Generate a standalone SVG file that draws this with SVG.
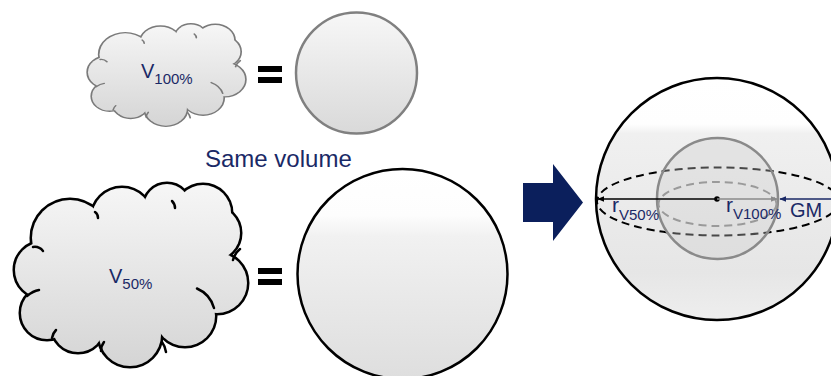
<svg xmlns="http://www.w3.org/2000/svg" xmlns:xlink="http://www.w3.org/1999/xlink" width="831" height="376" viewBox="0 0 831 376">
<style>
.lbl{font-family:"Liberation Sans",Arial,sans-serif;fill:#1a2966}
.big{font-size:20px}
.sub{font-size:15px}
.eq{fill:#000}
.cs{fill:none;stroke-width:5;vector-effect:non-scaling-stroke}
.hook{fill:none;stroke-width:2.5;stroke-linecap:round;vector-effect:non-scaling-stroke}
</style>
<defs>
<linearGradient id="cloudGrad" gradientUnits="userSpaceOnUse" x1="0" y1="185" x2="0" y2="365">
<stop offset="0" stop-color="#f6f6f6"/><stop offset="1" stop-color="#d5d5d5"/>
</linearGradient>
<linearGradient id="smallGrad" x1="0" y1="0" x2="0" y2="1">
<stop offset="0" stop-color="#f7f7f7"/><stop offset="1" stop-color="#d9d9d9"/>
</linearGradient>
<linearGradient id="bigGrad" x1="0" y1="0" x2="0" y2="1">
<stop offset="0" stop-color="#ffffff"/><stop offset="0.22" stop-color="#fdfdfd"/><stop offset="0.32" stop-color="#f1f1f1"/><stop offset="1" stop-color="#dedede"/>
</linearGradient>
<linearGradient id="sphereGrad" x1="0" y1="0" x2="0" y2="1">
<stop offset="0" stop-color="#ffffff"/><stop offset="0.19" stop-color="#fefefe"/><stop offset="0.23" stop-color="#f0f0f0"/><stop offset="0.8" stop-color="#e6e6e6"/><stop offset="1" stop-color="#eeeeee"/>
</linearGradient>
<g id="cloudCircles">
<circle cx="70" cy="238" r="38"/>
<circle cx="122" cy="218" r="30"/>
<circle cx="167" cy="207" r="23"/>
<circle cx="203" cy="213" r="28"/>
<circle cx="213" cy="233" r="27"/>
<circle cx="217" cy="283" r="30"/>
<circle cx="185" cy="316" r="30"/>
<circle cx="130" cy="335" r="31"/>
<circle cx="78" cy="326" r="26"/>
<circle cx="47" cy="313" r="26"/>
<circle cx="43" cy="270" r="28"/>
</g>
<g id="cloudHooks">
<path d="M33,247 Q39,246 43,251"/>
<path d="M95,212 Q98,214 98,218"/>
<path d="M172,201 Q175,204 175,208"/>
<path d="M240,249 Q235,253 233,260"/>
<path d="M197,288.5 A30,30 0 0 1 214,308"/>
<path d="M27,296 Q33,291 39,290"/>
<path d="M52,338 Q53,333 56,330"/>
<path d="M101,351 Q101,346 104,342"/>
<path d="M166,352 Q165,346 162,342"/>
</g>
<marker id="mBlack" viewBox="0 0 10 10" refX="9" refY="5" markerWidth="7" markerHeight="7" markerUnits="userSpaceOnUse" orient="auto"><path d="M0,1 L10,5 L0,9 Z" fill="#000"/></marker>
<marker id="mGrey" viewBox="0 0 10 10" refX="9" refY="5" markerWidth="7" markerHeight="7" markerUnits="userSpaceOnUse" orient="auto"><path d="M0,1 L10,5 L0,9 Z" fill="#8a8a8a"/></marker>
<marker id="mNavy" viewBox="0 0 10 10" refX="9" refY="5" markerWidth="7" markerHeight="7" markerUnits="userSpaceOnUse" orient="auto"><path d="M0,1 L10,5 L0,9 Z" fill="#1a2966"/></marker>
</defs>
<rect width="831" height="376" fill="#ffffff"/>

<g id="cloud100" transform="translate(88,25) scale(0.677,0.556) translate(-15,-185)">
<use xlink:href="#cloudCircles" class="cs" stroke="#7a7a7a"/>
<use xlink:href="#cloudCircles" fill="url(#cloudGrad)"/>
<ellipse cx="131" cy="275" rx="90" ry="62" fill="url(#cloudGrad)"/>
<use xlink:href="#cloudHooks" class="hook" stroke="#7a7a7a"/>
</g>
<g id="label100">
<text class="lbl" x="141" y="78"><tspan class="big">V</tspan><tspan class="sub" dy="6">100%</tspan></text>
</g>
<g id="eq1"><rect class="eq" x="258" y="66" width="24" height="6"/><rect class="eq" x="258" y="77" width="24" height="6"/></g>
<g id="circle100"><circle cx="356.5" cy="73" r="60.5" fill="url(#smallGrad)" stroke="#808080" stroke-width="2.5"/></g>

<g id="sameVolume"><text class="lbl" x="205" y="167" style="font-size:24px">Same volume</text></g>

<g id="cloud50">
<use xlink:href="#cloudCircles" class="cs" stroke="#000"/>
<use xlink:href="#cloudCircles" fill="url(#cloudGrad)"/>
<ellipse cx="131" cy="275" rx="90" ry="62" fill="url(#cloudGrad)"/>
<use xlink:href="#cloudHooks" class="hook" stroke="#000"/>
</g>
<g id="label50">
<text class="lbl" x="109" y="283"><tspan class="big">V</tspan><tspan class="sub" dy="6">50%</tspan></text>
</g>
<g id="eq2"><rect class="eq" x="258" y="268" width="24" height="6"/><rect class="eq" x="258" y="279" width="24" height="6"/></g>
<g id="circle50"><circle cx="402.5" cy="274" r="105" fill="url(#bigGrad)" stroke="#000" stroke-width="2.5"/></g>

<g id="bigArrow"><path d="M523,183 L553,183 L553,164 L583,202.5 L553,241 L553,222 L523,222 Z" fill="#0b1f5c"/></g>

<g id="sphere">
<circle cx="717" cy="199" r="121" fill="url(#sphereGrad)" stroke="#000" stroke-width="2.5"/>
<ellipse cx="718" cy="201.5" rx="121" ry="34" fill="none" stroke="#000" stroke-width="2" stroke-dasharray="8,5"/>
<circle cx="717.5" cy="198.5" r="60.5" fill="#cfcfcf" fill-opacity="0.35" stroke="#8a8a8a" stroke-width="2.5"/>
<ellipse cx="717.5" cy="204" rx="59" ry="22" fill="none" stroke="#9a9a9a" stroke-width="2" stroke-dasharray="8,5"/>
<circle cx="717" cy="199" r="2.8" fill="#000"/>
<text class="lbl" x="612" y="212"><tspan style="font-size:21px">r</tspan><tspan class="sub" dy="8">V50%</tspan></text>
<text class="lbl" x="726" y="212"><tspan style="font-size:21px">r</tspan><tspan class="sub" dy="7">V100%</tspan></text>
<text class="lbl big" x="790" y="217">GM</text>
</g>

<g id="connectors">
<line x1="717" y1="199" x2="598" y2="199" stroke="#000" stroke-width="1.5" marker-end="url(#mBlack)"/>
<line x1="717" y1="199" x2="777" y2="199" stroke="#8a8a8a" stroke-width="1.5" marker-end="url(#mGrey)"/>
<line x1="831" y1="199" x2="780" y2="199" stroke="#1a2966" stroke-width="1.5" marker-end="url(#mNavy)"/>
</g>
</svg>
